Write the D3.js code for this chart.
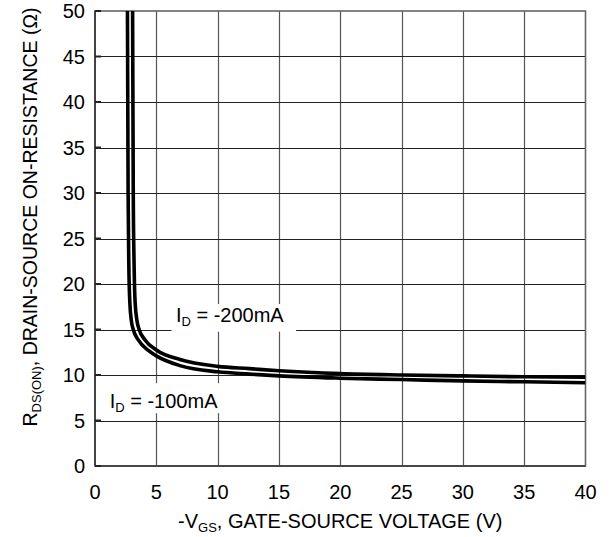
<!DOCTYPE html>
<html><head><meta charset="utf-8">
<script src="https://cdn.jsdelivr.net/npm/d3@7"></script>
<style>body{margin:0;background:#fff}svg{display:block}text{font-family:"Liberation Sans",Arial,sans-serif;fill:#000}</style>
</head><body>
<svg id="c" width="612" height="537"></svg>
<script>
const xTicks = [0,5,10,15,20,25,30,35,40];
const yTicks = [0,5,10,15,20,25,30,35,40,45,50];
const vgs100 = [2.64, 2.70, 2.76, 2.84, 2.96, 3.12, 3.53, 4.35, 5, 7, 10, 12.6, 15, 20, 25, 30, 35, 40];
const r100   = [52, 30, 22, 18, 16, 15, 13.85, 12.7, 12.1, 11.0, 10.35, 10.1, 9.9, 9.65, 9.5, 9.35, 9.25, 9.15];
const vgs200 = [3.06, 3.12, 3.19, 3.27, 3.42, 3.6, 4.08, 5, 6.93, 10, 12.6, 15, 20, 25, 30, 35, 40];
const r200   = [52, 30, 22, 18, 16, 15, 13.85, 12.75, 11.7, 10.95, 10.7, 10.47, 10.15, 10.0, 9.9, 9.8, 9.75];
const seriesLabels = ["-100mA", "-200mA"];

const svg = d3.select("#c");
const L = 95, R = 585.5, T = 11, B = 466;
const x = d3.scaleLinear().domain([0,40]).range([L,R]);
const y = d3.scaleLinear().domain([0,50]).range([B,T]);

// grid
const g = svg.append("g");
g.selectAll(".vg").data(xTicks.slice(1,-1)).enter().append("line")
  .attr("x1",d=>Math.round(x(d))+0.5).attr("x2",d=>Math.round(x(d))+0.5)
  .attr("y1",T).attr("y2",B).attr("stroke","#555").attr("stroke-width",1.2);
g.selectAll(".hg").data(yTicks.slice(1,-1)).enter().append("line")
  .attr("y1",d=>Math.round(y(d))+0.5).attr("y2",d=>Math.round(y(d))+0.5)
  .attr("x1",L).attr("x2",R).attr("stroke","#222").attr("stroke-width",1.2);

// label boxes (white, covering grid)
const box200 = {x0:6.24, x1:16.4, y0:14.76, y1:17.8};
const box100 = {x0:0.4, x1:10.6, y0:5.8, y1:9.1};
[box200, box100].forEach(b=>{
  svg.append("rect").attr("x",x(b.x0)).attr("y",y(b.y1))
    .attr("width",x(b.x1)-x(b.x0)).attr("height",y(b.y0)-y(b.y1)).attr("fill","#fff");
});

// border
svg.append("rect").attr("x",L).attr("y",T).attr("width",R-L).attr("height",B-T)
  .attr("fill","none").attr("stroke","#666").attr("stroke-width",1.6);
svg.append("line").attr("x1",L).attr("x2",R).attr("y1",B).attr("y2",B).attr("stroke","#333").attr("stroke-width",1.6);
svg.append("line").attr("x1",L).attr("x2",L).attr("y1",T).attr("y2",B).attr("stroke","#333").attr("stroke-width",1.6);

// left ticks (inside)
svg.selectAll(".yt").data(yTicks).enter().append("line")
  .attr("x1",L).attr("x2",L+6).attr("y1",d=>y(d)).attr("y2",d=>y(d))
  .attr("stroke","#222").attr("stroke-width",2);

// curves
svg.append("clipPath").attr("id","clip").append("rect").attr("x",L).attr("y",T).attr("width",R-L).attr("height",B-T);
const line = d3.line().x(d=>x(d[0])).y(d=>y(d[1])).curve(d3.curveMonotoneX);
[[vgs100,r100],[vgs200,r200]].forEach(([vs,rs])=>{
  svg.append("path").attr("clip-path","url(#clip)")
    .attr("d", line(vs.map((v,i)=>[v,rs[i]])))
    .attr("fill","none").attr("stroke","#000").attr("stroke-width",3.6);
});

// tick labels
svg.selectAll(".xl").data(xTicks).enter().append("text")
  .attr("x",d=>x(d)).attr("y",499).attr("text-anchor","middle").attr("font-size",20).text(d=>d);
svg.selectAll(".yl").data(yTicks).enter().append("text")
  .attr("x",85).attr("y",d=>y(d)+7).attr("text-anchor","end").attr("font-size",20).text(d=>d);

// series labels
function idLabel(xp, yp, s){
  const t = svg.append("text").attr("x",xp).attr("y",yp).attr("font-size",20);
  t.append("tspan").text("I");
  t.append("tspan").attr("font-size",13).attr("dy",4).text("D");
  t.append("tspan").attr("dy",-4).text(" = " + s);
}
idLabel(x(6.6), y(15.8), seriesLabels[1]);
idLabel(x(1.2), y(6.34), seriesLabels[0]);

// x axis title
const xt = svg.append("text").attr("x",(L+R)/2).attr("y",528).attr("text-anchor","middle").attr("font-size",20);
xt.append("tspan").text("-V");
xt.append("tspan").attr("font-size",13).attr("dy",4).text("GS");
xt.append("tspan").attr("dy",-4).text(", GATE-SOURCE VOLTAGE (V)");

// y axis title
const yt = svg.append("text").attr("transform","translate(37,217) rotate(-90)").attr("text-anchor","middle").attr("font-size",19.5);
yt.append("tspan").text("R");
yt.append("tspan").attr("font-size",13).attr("dy",4).text("DS(ON)");
yt.append("tspan").attr("dy",-4).text(", DRAIN-SOURCE ON-RESISTANCE (Ω)");
</script>
</body></html>
